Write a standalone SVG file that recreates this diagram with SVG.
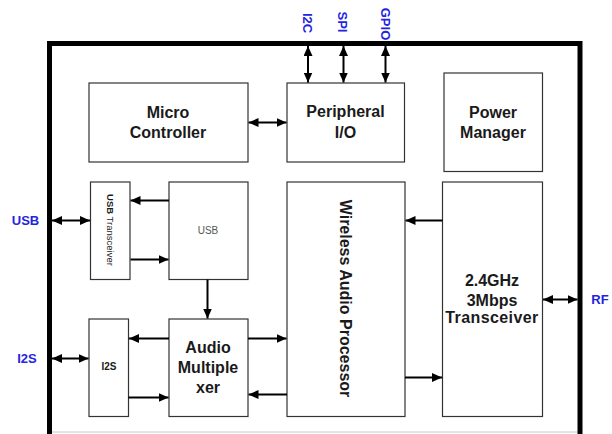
<svg xmlns="http://www.w3.org/2000/svg" width="612" height="434" viewBox="0 0 612 434">
<defs>
<marker id="ah" viewBox="0 0 10 9" refX="10" refY="4.5" markerWidth="10" markerHeight="9" markerUnits="userSpaceOnUse" orient="auto-start-reverse">
<path d="M0,0 L10,4.5 L0,9 z" fill="#000"/>
</marker>
<style>
.box{fill:#fff;stroke:#333;stroke-width:1.2}
.t{font-family:"Liberation Sans",Arial,sans-serif;font-weight:bold;font-size:16px;fill:#1a1a1a;text-anchor:middle}
.lbl{font-family:"Liberation Sans",Arial,sans-serif;font-weight:bold;font-size:13px;fill:#2424e0;text-anchor:middle}
.c{stroke:#000;stroke-width:2;fill:none}
.e{marker-end:url(#ah)}
.b{marker-start:url(#ah);marker-end:url(#ah)}
</style>
</defs>
<rect width="612" height="434" fill="#fff"/>
<line x1="52" y1="432" x2="578" y2="432" stroke="#c8c8c8" stroke-width="1"/>
<rect x="49.5" y="43.5" width="530.5" height="430" fill="none" stroke="#000" stroke-width="5"/>

<g id="micro"><rect class="box" x="89" y="83" width="159" height="79"/>
<text class="t" x="168" y="117.5" font-size="15.5">Micro</text><text class="t" x="168" y="137.5" font-size="15.5">Controller</text></g>
<g id="peripheral"><rect class="box" x="287" y="83" width="117.5" height="79"/>
<text class="t" x="345.5" y="117" font-size="17">Peripheral</text><text class="t" x="345.5" y="137.5" font-size="17">I/O</text></g>
<g id="power"><rect class="box" x="444" y="73" width="98.5" height="98.5" stroke="#555" stroke-width="1.5"/>
<text class="t" x="493" y="117.5">Power</text><text class="t" x="493" y="137.5">Manager</text></g>
<g id="usbtrans"><rect class="box" x="90.5" y="182" width="39.5" height="97.5"/>
<text transform="translate(110,230) rotate(90)" dy="0.35em" text-anchor="middle" font-family="Liberation Sans, Arial, sans-serif" font-size="9.5" fill="#1a1a1a"><tspan font-weight="bold">USB</tspan> Transceiver</text></g>
<g id="usb"><rect class="box" x="169" y="182" width="79" height="97.5"/>
<text x="208" y="233.5" text-anchor="middle" font-family="Liberation Sans, Arial, sans-serif" font-size="10" fill="#555">USB</text></g>
<g id="i2s"><rect class="box" x="89" y="319" width="39.5" height="97.5"/>
<text x="109" y="370" text-anchor="middle" font-family="Liberation Sans, Arial, sans-serif" font-size="10" font-weight="bold" fill="#1a1a1a">I2S</text></g>
<g id="mux"><rect class="box" x="169" y="319" width="79" height="97.5"/>
<text class="t" x="208" y="352.5">Audio</text><text class="t" x="208" y="373">Multiple</text><text class="t" x="208" y="393">xer</text></g>
<g id="wap"><rect class="box" x="287" y="182" width="118" height="234.5"/>
<text class="t" transform="translate(346,298.5) rotate(90)" dy="0.35em" font-size="16.5">Wireless Audio Processor</text></g>
<g id="transceiver"><rect class="box" x="442.5" y="182" width="100" height="234.5"/>
<text class="t" x="492" y="286">2.4GHz</text><text class="t" x="492" y="306">3Mbps</text><text class="t" x="492" y="323" font-size="12.5" letter-spacing="0.4">Transceiver</text></g>

<g id="labels">
<text class="lbl" transform="translate(308,23) rotate(90)" dy="0.35em">I2C</text>
<text class="lbl" transform="translate(342.5,22) rotate(90)" dy="0.35em">SPI</text>
<text class="lbl" transform="translate(386,24) rotate(90)" dy="0.35em">GPIO</text>
<text class="lbl" x="25.5" y="225">USB</text>
<text class="lbl" x="27" y="363">I2S</text>
<text class="lbl" x="600" y="304">RF</text>
</g>

<g id="connectors">
<path class="c b" d="M248.5,122.5 H286.5"/>
<path class="c b" d="M308,46 V82.5"/>
<path class="c b" d="M343.5,46 V82.5"/>
<path class="c b" d="M385.5,46 V82.5"/>
<path class="c b" d="M52,220.5 H90"/>
<path class="c e" d="M169,200.5 H130.5"/>
<path class="c e" d="M130.5,259.5 H168.5"/>
<path class="c e" d="M207.5,279.5 V318.5"/>
<path class="c e" d="M169,338.5 H129"/>
<path class="c e" d="M128.5,397.5 H168.5"/>
<path class="c b" d="M52,358.5 H88.5"/>
<path class="c e" d="M248,338.5 H286.5"/>
<path class="c e" d="M287,394.5 H248.5"/>
<path class="c e" d="M442.5,220.5 H405.5"/>
<path class="c e" d="M405,377.5 H442"/>
<path class="c b" d="M543,299.5 H577.5"/>
</g>
</svg>
